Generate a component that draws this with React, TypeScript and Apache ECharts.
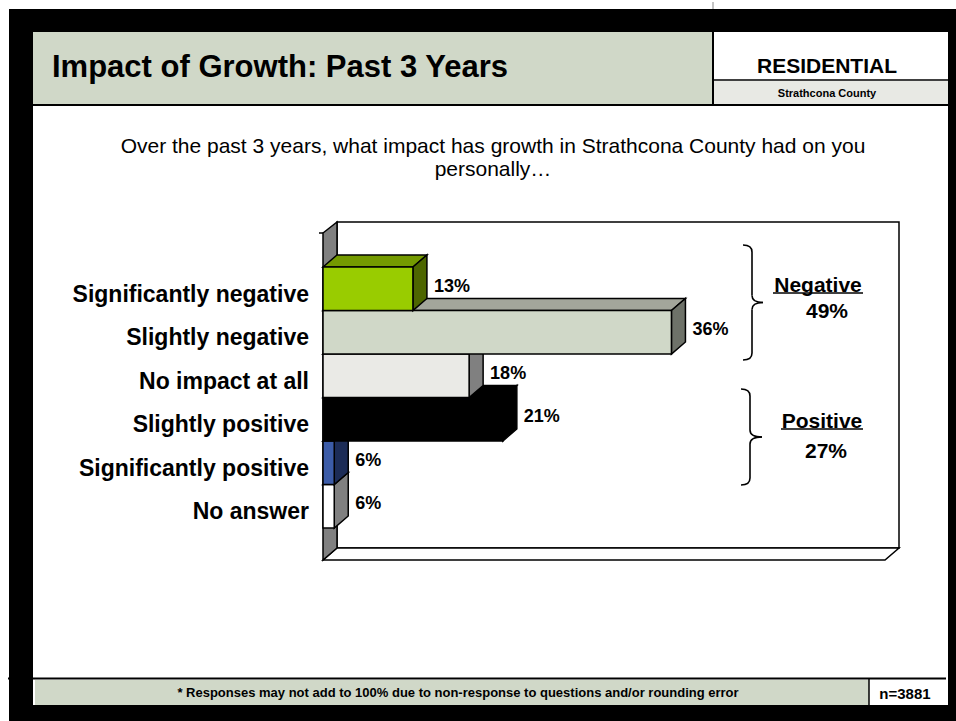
import React, { useEffect, useRef } from "react";
import * as echarts from "echarts";

// ---------- data ----------
const categories = [
  "Significantly negative",
  "Slightly negative",
  "No impact at all",
  "Slightly positive",
  "Significantly positive",
  "No answer",
];
const percents = [13, 36, 18, 21, 6, 6];
const groupNames = ["Negative", "Positive"];
const groupTotals = [49, 27];
const axisMin = 5;
const axisMax = 55;

const titleText = "Impact of Growth: Past 3 Years";
const segmentText = "RESIDENTIAL";
const regionText = "Strathcona County";
const questionLines = [
  "Over the past 3 years, what impact has growth in Strathcona County had on you",
  "personally\u2026",
];
const footnoteText =
  "* Responses may not add to 100% due to non-response to questions and/or rounding error";
const sampleText = "n=3881";

// ---------- styles ----------
const FONT = "'Liberation Sans', Arial, Helvetica, sans-serif";
const faceColors = [
  { front: "#99cc00", top: "#749a00", side: "#4d6600" },
  { front: "#d0d8c8", top: "#a3a69b", side: "#6e7269" },
  { front: "#eaeae6", top: "#b5b5b0", side: "#808080" },
  { front: "#000000", top: "#000000", side: "#000000" },
  { front: "#3c5ca8", top: "#2a4080", side: "#1c2c57" },
  { front: "#ffffff", top: "#c0c0c0", side: "#808080" },
];
const SAGE = "#d0d8c8";
const DX = 14;
const DY = 12;

// plot frame (front / back)
const GRID_LEFT = 323;
const GRID_TOP = 267;
const GRID_W = 562;
const GRID_H = 261;
const FRONT_TOP = 233;
const FRONT_BOT = 560;

function brace(xEnd: number, xLine: number, xTip: number, yTop: number, yBot: number) {
  const yMid = (yTop + yBot) / 2;
  const s = { stroke: "#000", lineWidth: 1.6, fill: null as any };
  const r = 7;
  return [
    { type: "bezierCurve", z: 20, shape: { x1: xEnd, y1: yTop, cpx1: xEnd + 6, cpy1: yTop, cpx2: xLine, cpy2: yTop + 2, x2: xLine, y2: yTop + r }, style: s },
    { type: "line", z: 20, shape: { x1: xLine, y1: yTop + r, x2: xLine, y2: yMid - r }, style: s },
    { type: "bezierCurve", z: 20, shape: { x1: xLine, y1: yMid - r, cpx1: xLine, cpy1: yMid - 2, cpx2: xLine + 4, cpy2: yMid, x2: xTip, y2: yMid }, style: s },
    { type: "bezierCurve", z: 20, shape: { x1: xTip, y1: yMid, cpx1: xLine + 4, cpy1: yMid, cpx2: xLine, cpy2: yMid + 2, x2: xLine, y2: yMid + r }, style: s },
    { type: "line", z: 20, shape: { x1: xLine, y1: yMid + r, x2: xLine, y2: yBot - r }, style: s },
    { type: "bezierCurve", z: 20, shape: { x1: xLine, y1: yBot - r, cpx1: xLine, cpy1: yBot - 2, cpx2: xEnd + 6, cpy2: yBot, x2: xEnd, y2: yBot }, style: s },
  ];
}

function txt(text: string, x: number, y: number, size: number, bold: boolean, align = "center") {
  return {
    type: "text",
    z: 20,
    style: {
      text,
      x,
      y,
      fill: "#000",
      font: `${bold ? "bold " : ""}${size}px ${FONT}`,
      align,
      verticalAlign: "middle",
    },
  };
}

export default function App() {
  const ref = useRef<HTMLDivElement>(null);

  useEffect(() => {
    if (!ref.current) return;
    const chart = echarts.init(ref.current, undefined, { renderer: "svg" });

    const frameStroke = { stroke: "#000", lineWidth: 1.5 };

    const graphics: any[] = [
      // page frame
      { type: "rect", z: 0, shape: { x: 9, y: 9, width: 947, height: 712 }, style: { fill: "#000" } },
      { type: "rect", z: 0, shape: { x: 33, y: 32, width: 915, height: 673 }, style: { fill: "#fff" } },
      { type: "line", z: 0, shape: { x1: 713, y1: 2, x2: 713, y2: 9 }, style: { stroke: "#888", lineWidth: 1 } },
      // header
      { type: "rect", z: 1, shape: { x: 33, y: 32, width: 680, height: 73 }, style: { fill: SAGE } },
      { type: "rect", z: 1, shape: { x: 714, y: 81, width: 234, height: 24 }, style: { fill: "#e8e9e4" } },
      { type: "line", z: 2, shape: { x1: 713, y1: 32, x2: 713, y2: 105 }, style: { stroke: "#000", lineWidth: 2 } },
      { type: "line", z: 2, shape: { x1: 713, y1: 80, x2: 948, y2: 80 }, style: { stroke: "#000", lineWidth: 1.5 } },
      { type: "line", z: 2, shape: { x1: 33, y1: 105, x2: 948, y2: 105 }, style: { stroke: "#000", lineWidth: 2 } },
      // footer
      { type: "rect", z: 1, shape: { x: 35, y: 680, width: 834, height: 25 }, style: { fill: SAGE } },
      { type: "line", z: 2, shape: { x1: 8, y1: 678.5, x2: 946, y2: 678.5 }, style: { stroke: "#000", lineWidth: 2 } },
      { type: "line", z: 2, shape: { x1: 869, y1: 679, x2: 869, y2: 705 }, style: { stroke: "#000", lineWidth: 1.5 } },
      // 3D walls
      {
        type: "rect", z: 1,
        shape: { x: GRID_LEFT + DX, y: FRONT_TOP - DY + 1, width: GRID_W, height: FRONT_BOT - FRONT_TOP - 1 },
        style: { fill: "#fff", ...frameStroke },
      },
      {
        type: "polygon", z: 1,
        shape: { points: [[GRID_LEFT, FRONT_BOT], [GRID_LEFT + DX, FRONT_BOT - DY], [GRID_LEFT + DX + GRID_W, FRONT_BOT - DY], [GRID_LEFT + GRID_W, FRONT_BOT]] },
        style: { fill: "#fff", ...frameStroke },
      },
      {
        type: "polygon", z: 1,
        shape: { points: [[GRID_LEFT, FRONT_TOP], [GRID_LEFT + DX, FRONT_TOP - DY + 1], [GRID_LEFT + DX, FRONT_BOT - DY], [GRID_LEFT, FRONT_BOT]] },
        style: { fill: "#808080", ...frameStroke },
      },
      { type: "line", z: 1, shape: { x1: GRID_LEFT - 4, y1: FRONT_TOP, x2: GRID_LEFT, y2: FRONT_TOP }, style: { stroke: "#000", lineWidth: 1.5 } },
      // texts
      txt(titleText, 52, 66, 31, true, "left"),
      txt(segmentText, 827, 65, 21, true),
      txt(regionText, 827, 93, 11, true),
      txt(questionLines[0], 493, 145, 21, false),
      txt(questionLines[1], 493, 168, 21, false),
      txt(footnoteText, 458, 692, 13, true),
      txt(sampleText, 905, 693, 15, true),
      // braces + group summaries
      ...brace(743, 752, 763, 245, 360),
      ...brace(741, 750, 762, 389, 485),
      txt(groupNames[0], 818, 284, 21, true),
      { type: "line", z: 20, shape: { x1: 773, y1: 293, x2: 863, y2: 293 }, style: { stroke: "#000", lineWidth: 1.5 } },
      txt(groupTotals[0] + "%", 827, 310, 21, true),
      txt(groupNames[1], 822, 420, 21, true),
      { type: "line", z: 20, shape: { x1: 781, y1: 429, x2: 863, y2: 429 }, style: { stroke: "#000", lineWidth: 1.5 } },
      txt(groupTotals[1] + "%", 826, 450, 21, true),
    ];

    const option: any = {
      animation: false,
      backgroundColor: "#fff",
      grid: {
        left: GRID_LEFT,
        top: GRID_TOP,
        width: GRID_W,
        height: GRID_H,
        containLabel: false,
        outerBoundsMode: "none",
      },
      xAxis: {
        type: "value",
        min: axisMin,
        max: axisMax,
        show: false,
      },
      yAxis: {
        type: "category",
        inverse: true,
        data: categories,
        z: 10,
        axisLine: { show: false },
        axisTick: { show: false },
        splitLine: { show: false },
        axisLabel: {
          margin: 14,
          color: "#000",
          formatter: (v: string) => `{c|${v}}`,
          rich: {
            c: {
              fontFamily: FONT,
              fontWeight: "bold",
              fontSize: 23,
              color: "#000",
              padding: [10, 0, 0, 0],
            },
          },
        },
      },
      graphic: { elements: graphics },
      series: [
        {
          type: "custom",
          z: 5,
          coordinateSystem: "cartesian2d",
          encode: { x: 0, y: 1 },
          data: percents.map((v, i) => [v, i]),
          renderItem: (params: any, api: any) => {
            const v = api.value(0);
            const idx = api.value(1);
            const end = api.coord([v, idx]);
            const start = api.coord([axisMin, idx]);
            const band = api.size([0, 1])[1];
            const x0 = start[0];
            const x1 = end[0];
            const yT = end[1] - band / 2;
            const yB = end[1] + band / 2;
            const c = faceColors[idx];
            const z = (categories.length - idx) * 4;
            const st = { stroke: "#000", lineWidth: 1.5, lineJoin: "miter" };
            return {
              type: "group",
              children: [
                {
                  type: "polygon",
                  z2: z,
                  shape: { points: [[x0, yT], [x0 + DX, yT - DY], [x1 + DX, yT - DY], [x1, yT]] },
                  style: { fill: c.top, ...st },
                },
                {
                  type: "polygon",
                  z2: z + 1,
                  shape: { points: [[x1, yT], [x1 + DX, yT - DY], [x1 + DX, yB - DY], [x1, yB]] },
                  style: { fill: c.side, ...st },
                },
                {
                  type: "rect",
                  z2: z + 2,
                  shape: { x: x0, y: yT, width: x1 - x0, height: yB - yT },
                  style: { fill: c.front, ...st },
                },
                {
                  type: "text",
                  z2: 100,
                  style: {
                    text: v + "%",
                    x: x1 + DX + 7,
                    y: end[1] - 3,
                    fill: "#000",
                    font: `bold 18px ${FONT}`,
                    align: "left",
                    verticalAlign: "middle",
                  },
                },
              ],
            };
          },
        },
      ],
    };

    chart.setOption(option);
    return () => chart.dispose();
  }, []);

  return (
    <div
      ref={ref}
      style={{ position: "fixed", left: 0, top: 0, width: 956, height: 721 }}
    />
  );
}
